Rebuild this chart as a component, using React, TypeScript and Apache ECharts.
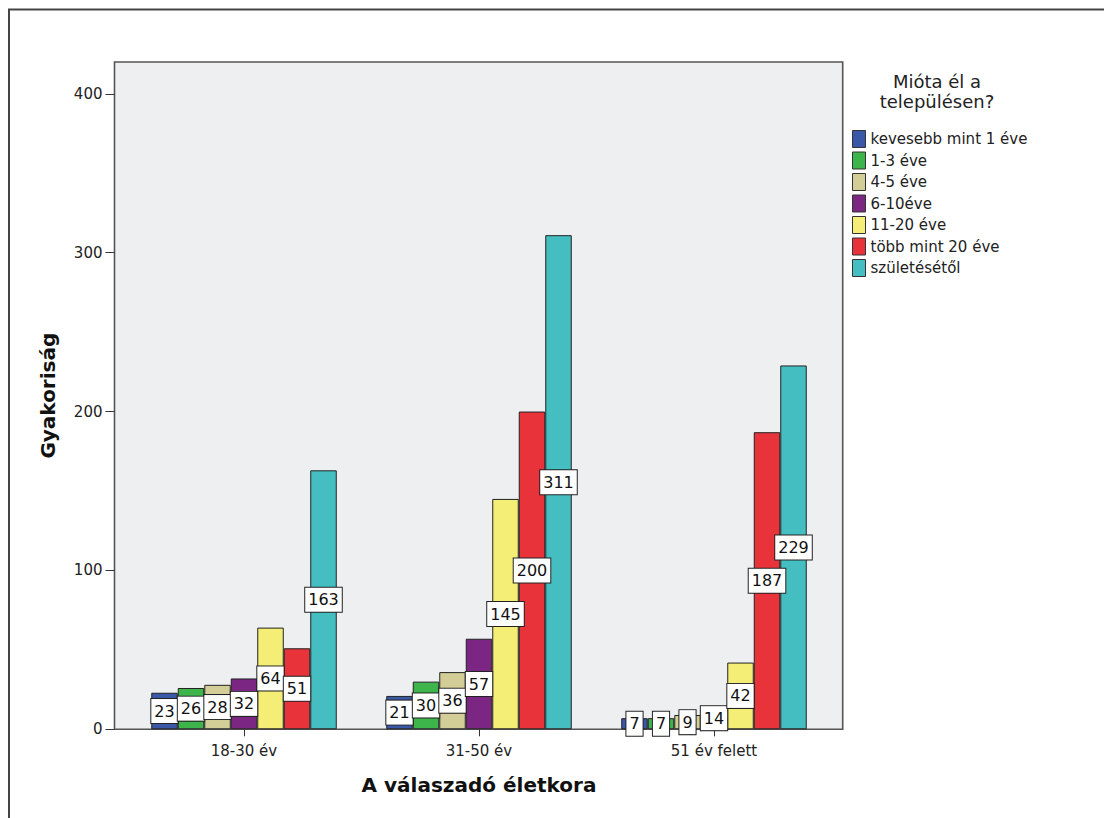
import React, { useEffect, useRef } from "react";
import * as echarts from "echarts";

// Age groups on the category axis
const ageGroups = ["18-30 év", "31-50 év", "51 év felett"];

// Residence duration groups (one bar series each)
const residenceGroups = [
  "kevesebb mint 1 éve",
  "1-3 éve",
  "4-5 éve",
  "6-10éve",
  "11-20 éve",
  "több mint 20 éve",
  "születésétől",
];

// Counts per residence group, in age-group order
const lessThan1 = [23, 21, 7];
const years1to3 = [26, 30, 7];
const years4to5 = [28, 36, 9];
const years6to10 = [32, 57, 14];
const years11to20 = [64, 145, 42];
const over20 = [51, 200, 187];
const sinceBirth = [163, 311, 229];

const seriesValues = [lessThan1, years1to3, years4to5, years6to10, years11to20, over20, sinceBirth];

const barColors = ["#3A58A8", "#3DB54B", "#D3CD97", "#7A2682", "#F4EE76", "#E8333B", "#45BEC2"];

const yTicks = [0, 100, 200, 300, 400];

const FONT = "DejaVu Sans";

export default function App() {
  const ref = useRef<HTMLDivElement>(null);

  useEffect(() => {
    if (!ref.current) return;
    const chart = echarts.init(ref.current, null, { renderer: "svg" });

    const series = residenceGroups.map((name, i) => ({
      name,
      type: "bar" as const,
      data: seriesValues[i],
      barWidth: 26.5,
      barGap: "0%",
      itemStyle: { color: barColors[i], borderColor: "#222", borderWidth: 1 },
      label: {
        show: true,
        position: "inside",
        color: "#111",
        fontFamily: FONT,
        fontSize: 16,
        backgroundColor: "#ffffff",
        borderColor: "#222",
        borderWidth: 1,
        padding: [5, 3, 3, 3],
      },
      z: 3,
    }));

    chart.setOption({
      animation: false,
      backgroundColor: "#ffffff",
      textStyle: { fontFamily: FONT },
      graphic: [
        // outer frame
        {
          type: "rect",
          z: -10,
          shape: { x: 1, y: 1.5, width: 1300, height: 1300 },
          style: { fill: "none", stroke: "#444", lineWidth: 2 },
        },
        // plot area background
        {
          type: "rect",
          z: -5,
          shape: { x: 106.5, y: 54, width: 728.2, height: 667.3 },
          style: { fill: "#EEEFF1", stroke: "#555", lineWidth: 1.6 },
        },
        // legend title
        {
          type: "text",
          x: 929,
          y: 63,
          style: {
            text: "Mióta él a\ntelepülésen?",
            fontFamily: FONT,
            fontSize: 18,
            lineHeight: 20,
            align: "center",
            verticalAlign: "top",
            fill: "#222",
          },
        },
      ],
      legend: {
        orient: "vertical",
        left: 839,
        top: 117,
        itemWidth: 13,
        itemHeight: 17,
        itemGap: 3.5,
        icon: "rect",
        data: residenceGroups,
        textStyle: { fontFamily: FONT, fontSize: 15, color: "#222" },
        itemStyle: { borderColor: "#333", borderWidth: 1 },
      },
      grid: { left: 118.5, top: 54, width: 705, height: 667.3 },
      xAxis: {
        type: "category",
        data: ageGroups,
        name: "A válaszadó életkora",
        nameLocation: "middle",
        nameGap: 46,
        nameTextStyle: { fontFamily: FONT, fontSize: 20, fontWeight: "bold", color: "#111" },
        axisLine: { show: false },
        axisTick: { show: true, alignWithLabel: true, length: 7, lineStyle: { color: "#333" } },
        axisLabel: { fontFamily: FONT, fontSize: 15, color: "#222", margin: 14 },
      },
      yAxis: {
        type: "value",
        min: 0,
        max: 420,
        interval: 100,
        offset: 12,
        name: "Gyakoriság",
        nameLocation: "middle",
        nameGap: 57,
        nameTextStyle: { fontFamily: FONT, fontSize: 20, fontWeight: "bold", color: "#111" },
        axisLine: { show: false },
        splitLine: { show: false },
        axisTick: { show: true, length: 9, lineStyle: { color: "#333" }, customValues: yTicks },
        axisLabel: { fontFamily: FONT, fontSize: 15, color: "#222", margin: 12, customValues: yTicks },
      },
      series,
    });

    return () => chart.dispose();
  }, []);

  return <div ref={ref} style={{ width: 1104, height: 810 }} />;
}
